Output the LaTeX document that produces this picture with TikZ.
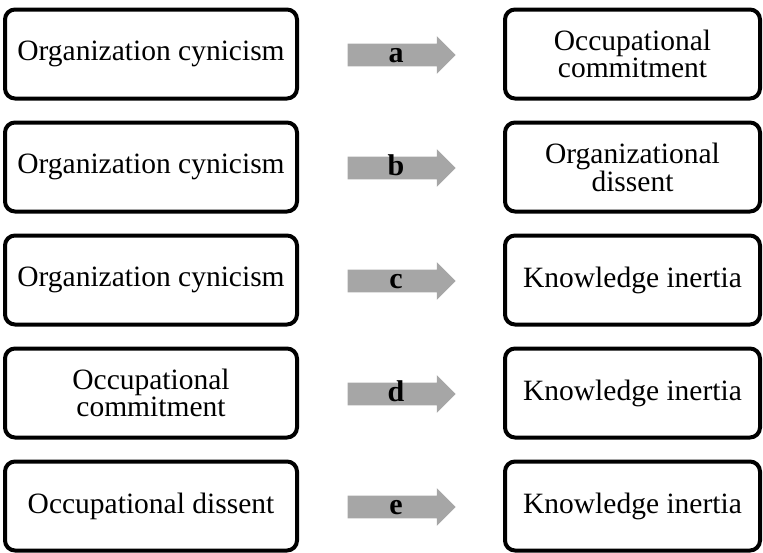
\documentclass[tikz,border=0pt]{standalone}
\usepackage{fontspec}
\setmainfont{Liberation Serif}
\usepackage{tikz}
\usetikzlibrary{shapes.arrows}

\begin{document}
\begin{tikzpicture}[x=1pt,y=-1pt,
	main_node/.style={rectangle,rounded corners=10pt,draw,line width=4pt,minimum height=89pt,align=center,font=\fontsize{29.5}{25}\selectfont,inner sep=2pt},
	left_node/.style={main_node,minimum width=292pt},
	right_node/.style={main_node,minimum width=255pt},
	link_arrow/.style={single arrow,fill=black!35,draw=none,minimum height=108pt,minimum width=37pt,single arrow head extend=7.5pt,inner sep=0pt,text height=19pt,text depth=3.5pt,font=\fontsize{30}{30}\selectfont\bfseries}]

		\useasboundingbox (0,0) rectangle (763,552);

		\node[left_node] (1) at (151,54) {Organization cynicism};
		\node[left_node] (2) at (151,167) {Organization cynicism};
		\node[left_node] (3) at (151,280) {Organization cynicism};
		\node[left_node] (4) at (151,393) {Occupational\\commitment};
		\node[left_node] (5) at (151,506) {Occupational dissent};

		\node[right_node] (6) at (632.5,54) {Occupational\\commitment};
		\node[right_node] (7) at (632.5,167) {Organizational\\dissent};
		\node[right_node] (8) at (632.5,280) {Knowledge inertia};
		\node[right_node] (9) at (632.5,393) {Knowledge inertia};
		\node[right_node] (10) at (632.5,506) {Knowledge inertia};

		\node[link_arrow] (a) at (396,55) {a};
		\node[link_arrow] (b) at (396,168) {b};
		\node[link_arrow] (c) at (396,281) {c};
		\node[link_arrow] (d) at (396,394) {d};
		\node[link_arrow] (e) at (396,507) {e};
		\end{tikzpicture}
\end{document}
